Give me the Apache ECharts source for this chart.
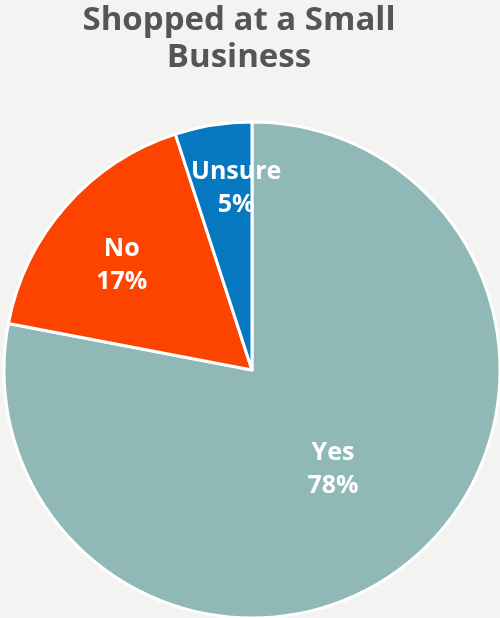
<!DOCTYPE html>
<html>
<head>
<meta charset="utf-8">
<script src="https://cdn.jsdelivr.net/npm/echarts@6/dist/echarts.min.js"></script>
<style>
html, body { margin: 0; padding: 0; background: #f3f4f2; }
#container { width: 500px; height: 618px; }
</style>
</head>
<body>
<div id="container"></div>
<script>
var categories = ['Yes', 'No', 'Unsure'];
var values = [78, 17, 5];
var colors = ['#8fb8b7', '#fc4400', '#0578c0'];
// label nudges so they sit where the original put them
var labelOffsets = [[0, 2], [-35, -21], [4, -56]];

var chart = echarts.init(document.getElementById('container'));

var option = {
	backgroundColor: '#f3f4f2',
	title: {
		text: 'Shopped at a Small\nBusiness',
		left: 234,
		textAlign: 'center',
		top: -3,
		textStyle: {
			fontFamily: 'Open Sans',
			fontWeight: 'bold',
			fontSize: 33,
			lineHeight: 37,
			color: '#555555'
		}
	},
	series: [{
		type: 'pie',
		center: [252, 370],
		radius: 248,
		startAngle: 90,
		clockwise: true,
		silent: true,
		itemStyle: { borderColor: '#ffffff', borderWidth: 3 },
		label: {
			position: 'inside',
			formatter: '{b}\n{d}%',
			color: '#ffffff',
			fontFamily: 'Open Sans',
			fontWeight: 'bold',
			fontSize: 25,
			lineHeight: 33
		},
		labelLine: { show: false },
		data: categories.map(function (c, i) {
			return {
				name: c,
				value: values[i],
				itemStyle: { color: colors[i] },
				label: { offset: labelOffsets[i] }
			};
		})
	}]
};
chart.setOption(option);
</script>
</body>
</html>
